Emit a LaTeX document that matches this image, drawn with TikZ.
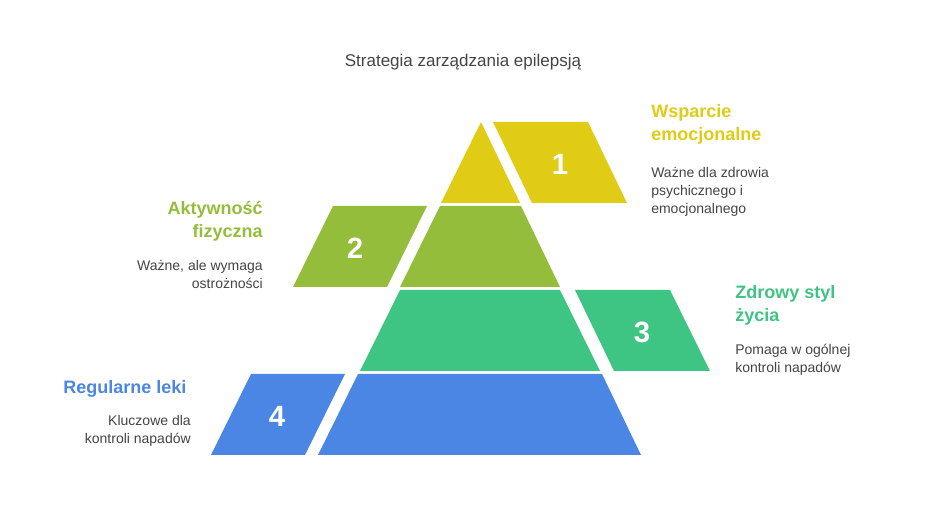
\documentclass[tikz,border=0pt]{standalone}
\usepackage{fontspec}
\setmainfont{Liberation Sans}
\definecolor{gelb}{HTML}{E0CB15}
\definecolor{oliv}{HTML}{93BD3B}
\definecolor{gruen}{HTML}{3EC483}
\definecolor{blau}{HTML}{4B86E4}
\definecolor{textgrau}{HTML}{444444}
\tikzset{
  stufe/.style={fill=#1,draw=none},
  nummer/.style={text=white,font=\fontsize{22}{26}\selectfont\bfseries},
  kopf/.style={text=#1,inner sep=0pt,font=\fontsize{13.5}{17.25}\selectfont\bfseries},
  info/.style={text=textgrau,inner sep=0pt,font=\fontsize{10.5}{13.5}\selectfont}
}
\begin{document}
\begin{tikzpicture}[x=0.75pt,y=-0.75pt]
  %Rahmen
  \useasboundingbox (0,0) rectangle (926,530);

  %Titel
  \node[text=textgrau,font=\fontsize{12.75}{15}\selectfont] (titel) at (463,62) {Strategia zarządzania epilepsją};

  %Pyramide
  \fill[stufe=gelb]  (441,203)--(481,122)--(520,203)--cycle;
  \fill[stufe=oliv]  (400,287)--(440,206)--(521,206)--(560,287)--cycle;
  \fill[stufe=gruen] (360,371)--(400,290)--(560,290)--(600,371)--cycle;
  \fill[stufe=blau]  (318,455)--(358,374)--(602,374)--(641,455)--cycle;

  %Parallelogramme
  \fill[stufe=gelb]  (493,122)--(588,122)--(627,203)--(532,203)--cycle;
  \fill[stufe=oliv]  (293,287)--(333,206)--(427,206)--(387,287)--cycle;
  \fill[stufe=gruen] (575,290)--(670,290)--(710,371)--(614,371)--cycle;
  \fill[stufe=blau]  (211,455)--(251,374)--(345,374)--(305,455)--cycle;

  %Nummern
  \node[nummer] (n1) at (560,164) {1};
  \node[nummer] (n2) at (355,248) {2};
  \node[nummer] (n3) at (642,332) {3};
  \node[nummer] (n4) at (277,416) {4};

  %Texte
  \node[kopf=gelb,anchor=north west,align=left] (k1) at (651,104) {Wsparcie\\emocjonalne};
  \node[info,anchor=north west,align=left] (i1) at (651,167) {Ważne dla zdrowia\\psychicznego i\\emocjonalnego};

  \node[kopf=oliv,anchor=north east,align=right] (k2) at (263,201) {Aktywność\\fizyczna};
  \node[info,anchor=north east,align=right] (i2) at (263,260) {Ważne, ale wymaga\\ostrożności};

  \node[kopf=gruen,anchor=north west,align=left] (k3) at (735,285) {Zdrowy styl\\życia};
  \node[info,anchor=north west,align=left] (i3) at (735,344) {Pomaga w ogólnej\\kontroli napadów};

  \node[kopf=blau,anchor=north west,align=left] (k4) at (63,380) {Regularne leki};
  \node[info,anchor=north east,align=right] (i4) at (191,415) {Kluczowe dla\\kontroli napadów};
\end{tikzpicture}
\end{document}
